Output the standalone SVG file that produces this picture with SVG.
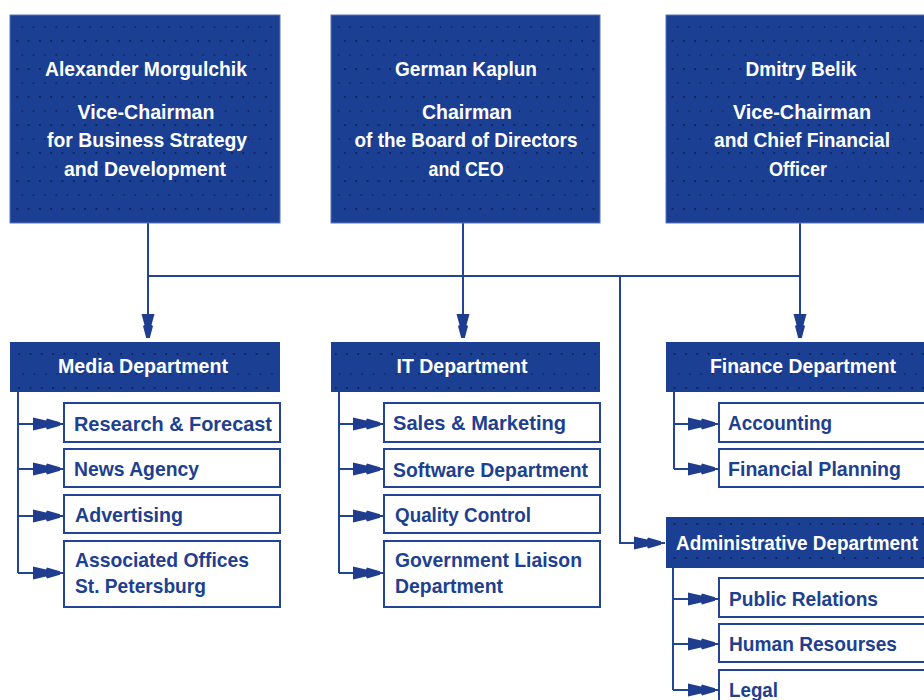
<svg xmlns="http://www.w3.org/2000/svg" width="924" height="700" viewBox="0 0 924 700">
<defs>
<pattern id="dots" width="11.3" height="28" patternUnits="userSpaceOnUse" x="3" y="10">
<circle cx="3" cy="3" r="0.9" fill="#0b1a44"/>
<circle cx="8" cy="17" r="0.8" fill="#0b1a44"/>
</pattern>
<pattern id="dots2" width="11.3" height="34" patternUnits="userSpaceOnUse" x="5" y="6">
<circle cx="3" cy="8" r="0.9" fill="#0b1a44"/>
<circle cx="7" cy="28" r="0.8" fill="#0b1a44"/>
</pattern>
<path id="ahd" d="M -6.5,-24 L 6.5,-24 L 3.5,-13 L 5,-12 L 1.8,0 L -1.8,0 L -5,-12 L -3.5,-13 Z"/>
<path id="ahr" d="M -31,-6.5 L -31,6.5 L -18,3.5 L -17,5.5 L -4,1.8 L -4,-1.8 L -17,-5.5 L -18,-3.5 Z"/>
</defs>
<style>
.top{fill:#1b3f93;stroke:#5a74b8;stroke-width:1}
.dept{fill:#1b3f93}
.sub{fill:#fff;stroke:#234394;stroke-width:2}
.wt{font-family:"Liberation Sans",Arial,sans-serif;font-weight:bold;font-size:21px;fill:#fff;text-anchor:middle}
.bt{font-family:"Liberation Sans",Arial,sans-serif;font-weight:bold;font-size:21px;fill:#20408f}
.ln{fill:none;stroke:#234394;stroke-width:2}
.ah{fill:#1e3d8f}
</style>
<rect width="924" height="700" fill="#fff"/>

<g id="connectors">
<path class="ln" d="M148,223 V337 M463,223 V337 M800,223 V337 M148,276 H800 M620,276 V543 H665"/>
<path class="ln" d="M18,392 V573 M18,424 H64 M18,469 H64 M18,516 H64 M18,573 H64"/>
<path class="ln" d="M339,392 V573 M339,424 H384 M339,469 H384 M339,516 H384 M339,573 H384"/>
<path class="ln" d="M674,392 V469 M674,424 H719 M674,469 H719"/>
<path class="ln" d="M673,568 V690 M673,599 H719 M673,644 H719 M673,690 H719"/>
<g class="ah">
<use href="#ahd" x="148" y="338"/>
<use href="#ahd" x="463" y="338"/>
<use href="#ahd" x="800" y="338"/>
<use href="#ahr" x="665" y="543"/>
<use href="#ahr" x="64" y="424"/><use href="#ahr" x="64" y="469"/><use href="#ahr" x="64" y="516"/><use href="#ahr" x="64" y="573"/>
<use href="#ahr" x="384" y="424"/><use href="#ahr" x="384" y="469"/><use href="#ahr" x="384" y="516"/><use href="#ahr" x="384" y="573"/>
<use href="#ahr" x="719" y="424"/><use href="#ahr" x="719" y="469"/>
<use href="#ahr" x="719" y="599"/><use href="#ahr" x="719" y="644"/><use href="#ahr" x="719" y="690"/>
</g>
</g>

<g id="morgulchik">
<rect class="top" x="10" y="15" width="270" height="208"/>
<rect x="14" y="19" width="262" height="200" fill="url(#dots)"/>
<text class="wt" x="146" y="76" textLength="202" lengthAdjust="spacingAndGlyphs">Alexander Morgulchik</text>
<text class="wt" x="146" y="119" textLength="137" lengthAdjust="spacingAndGlyphs">Vice-Chairman</text>
<text class="wt" x="147" y="147" textLength="200" lengthAdjust="spacingAndGlyphs">for Business Strategy</text>
<text class="wt" x="145" y="176" textLength="162" lengthAdjust="spacingAndGlyphs">and Development</text>
</g>
<g id="kaplun">
<rect class="top" x="331" y="15" width="269" height="208"/>
<rect x="335" y="19" width="261" height="200" fill="url(#dots)"/>
<text class="wt" x="466" y="76" textLength="142" lengthAdjust="spacingAndGlyphs">German Kaplun</text>
<text class="wt" x="467" y="119" textLength="90" lengthAdjust="spacingAndGlyphs">Chairman</text>
<text class="wt" x="466" y="147" textLength="223" lengthAdjust="spacingAndGlyphs">of the Board of Directors</text>
<text class="wt" x="466" y="176" textLength="75" lengthAdjust="spacingAndGlyphs">and CEO</text>
</g>
<g id="belik">
<rect class="top" x="666" y="15" width="270" height="208"/>
<rect x="670" y="19" width="262" height="200" fill="url(#dots)"/>
<text class="wt" x="801" y="76" textLength="111" lengthAdjust="spacingAndGlyphs">Dmitry Belik</text>
<text class="wt" x="802" y="119" textLength="138" lengthAdjust="spacingAndGlyphs">Vice-Chairman</text>
<text class="wt" x="802" y="147" textLength="176" lengthAdjust="spacingAndGlyphs">and Chief Financial</text>
<text class="wt" x="798" y="176" textLength="58" lengthAdjust="spacingAndGlyphs">Officer</text>
</g>

<g id="media">
<rect class="dept" x="10" y="342" width="270" height="50"/>
<rect x="14" y="344" width="262" height="46" fill="url(#dots2)"/>
<text class="wt" x="143" y="373" textLength="170" lengthAdjust="spacingAndGlyphs">Media Department</text>
</g>
<g id="it">
<rect class="dept" x="331" y="342" width="269" height="50"/>
<rect x="335" y="344" width="261" height="46" fill="url(#dots2)"/>
<text class="wt" x="462" y="373" textLength="131" lengthAdjust="spacingAndGlyphs">IT Department</text>
</g>
<g id="finance">
<rect class="dept" x="666" y="342" width="270" height="50"/>
<rect x="670" y="344" width="262" height="46" fill="url(#dots2)"/>
<text class="wt" x="803" y="373" textLength="186" lengthAdjust="spacingAndGlyphs">Finance Department</text>
</g>
<g id="admin">
<rect class="dept" x="666" y="517" width="270" height="51"/>
<rect x="670" y="519" width="262" height="47" fill="url(#dots2)"/>
<text class="wt" x="676" y="550" textLength="242" lengthAdjust="spacingAndGlyphs" style="text-anchor:start">Administrative Department</text>
</g>

<g id="research"><rect class="sub" x="64" y="403" width="216" height="39"/><text class="bt" x="74" y="431" textLength="198" lengthAdjust="spacingAndGlyphs">Research &amp; Forecast</text></g>
<g id="news"><rect class="sub" x="64" y="449" width="216" height="38"/><text class="bt" x="74" y="476" textLength="125" lengthAdjust="spacingAndGlyphs">News Agency</text></g>
<g id="advertising"><rect class="sub" x="64" y="495" width="216" height="38"/><text class="bt" x="75" y="522" textLength="108" lengthAdjust="spacingAndGlyphs">Advertising</text></g>
<g id="offices"><rect class="sub" x="64" y="541" width="216" height="66"/><text class="bt" x="75" y="567" textLength="174" lengthAdjust="spacingAndGlyphs">Associated Offices</text><text class="bt" x="75" y="593" textLength="131" lengthAdjust="spacingAndGlyphs">St. Petersburg</text></g>

<g id="sales"><rect class="sub" x="384" y="403" width="216" height="39"/><text class="bt" x="393" y="430" textLength="173" lengthAdjust="spacingAndGlyphs">Sales &amp; Marketing</text></g>
<g id="software"><rect class="sub" x="384" y="449" width="216" height="38"/><text class="bt" x="393" y="477" textLength="195" lengthAdjust="spacingAndGlyphs">Software Department</text></g>
<g id="quality"><rect class="sub" x="384" y="495" width="216" height="38"/><text class="bt" x="395" y="522" textLength="136" lengthAdjust="spacingAndGlyphs">Quality Control</text></g>
<g id="government"><rect class="sub" x="384" y="541" width="216" height="66"/><text class="bt" x="395" y="567" textLength="187" lengthAdjust="spacingAndGlyphs">Government Liaison</text><text class="bt" x="395" y="593" textLength="108" lengthAdjust="spacingAndGlyphs">Department</text></g>

<g id="accounting"><rect class="sub" x="719" y="403" width="216" height="39"/><text class="bt" x="728" y="430" textLength="104" lengthAdjust="spacingAndGlyphs">Accounting</text></g>
<g id="planning"><rect class="sub" x="719" y="449" width="216" height="38"/><text class="bt" x="728" y="476" textLength="173" lengthAdjust="spacingAndGlyphs">Financial Planning</text></g>

<g id="pr"><rect class="sub" x="719" y="578" width="216" height="39"/><text class="bt" x="729" y="606" textLength="149" lengthAdjust="spacingAndGlyphs">Public Relations</text></g>
<g id="hr"><rect class="sub" x="719" y="624" width="216" height="38"/><text class="bt" x="729" y="651" textLength="168" lengthAdjust="spacingAndGlyphs">Human Resourses</text></g>
<g id="legal"><rect class="sub" x="719" y="670" width="216" height="40"/><text class="bt" x="729" y="697" textLength="49" lengthAdjust="spacingAndGlyphs">Legal</text></g>
</svg>
